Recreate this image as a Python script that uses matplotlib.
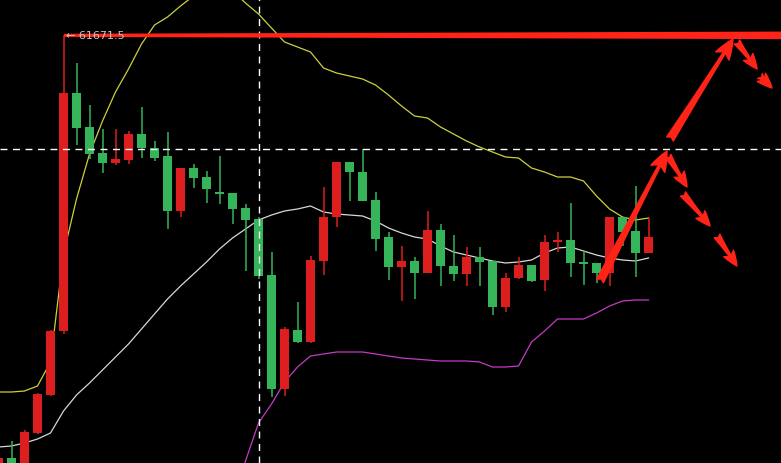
import matplotlib.pyplot as plt
import numpy as np

# candle data (bar index 0..50), red = up, green = down
opens = [57280, 57440, 57330, 57690, 58070, 58710, 61090, 60750, 60490, 60390,
         60420, 60680, 60540, 60460, 59910, 60340, 60250, 60100, 60090, 59940,
         59830, 59270, 58130, 58720, 58600, 59410, 59850, 60400, 60300, 60020,
         59650, 59350, 59410, 59290, 59720, 59360, 59280, 59450, 59410, 58950,
         59240, 59370, 59220, 59600, 59620, 59400, 59390, 59290, 59850, 59710,
         59490]
closes = [57440, 57360, 57700, 58080, 58710, 61090, 60740, 60480, 60390, 60430,
          60680, 60540, 60440, 59910, 60340, 60240, 60130, 60080, 59930, 59820,
          59260, 58130, 58730, 58600, 59420, 59850, 60400, 60300, 60010, 59630,
          59350, 59410, 59290, 59720, 59360, 59280, 59450, 59400, 58950, 59240,
          59370, 59210, 59600, 59620, 59390, 59380, 59290, 59850, 59700, 59490,
          59650]
highs = [57460, 57610, 57720, 58090, 58720, 61671.5, 61390, 60970, 60730, 60730,
         60710, 60950, 60610, 60700, 60340, 60380, 60310, 60460, 60090, 59980,
         59850, 59500, 58750, 59000, 59460, 60150, 60400, 60400, 60530, 60100,
         59700, 59560, 59450, 59910, 59780, 59670, 59550, 59550, 59410, 59290,
         59450, 59370, 59670, 59700, 59990, 59510, 59390, 59850, 59850, 60160,
         59840]
lows = [57250, 57330, 57310, 57680, 58060, 58680, 60570, 60430, 60290, 60370,
        60380, 60440, 60410, 59730, 59850, 60140, 59990, 59980, 59780, 59310,
        59230, 58050, 58060, 58590, 58590, 59270, 59750, 60010, 60010, 59510,
        59220, 59010, 59030, 59290, 59160, 59210, 59160, 59160, 58870, 58900,
        59230, 59200, 59110, 59500, 59250, 59170, 59190, 59160, 59560, 59250,
        59490]

# bollinger style bands
upper = [58100, 58100, 58110, 58160, 58400, 59480, 60030, 60480, 60810, 61100,
         61330, 61580, 61770, 61850, 61960, 62060, 62150, 62180, 62110, 61990,
         61880, 61740, 61600, 61550, 61500, 61340, 61290, 61260, 61230, 61170,
         61070, 60960, 60860, 60840, 60750, 60680, 60610, 60550, 60500, 60450,
         60440, 60340, 60300, 60250, 60250, 60210, 60060, 59930, 59850, 59820,
         59840]
middle = [57550, 57560, 57590, 57630, 57690, 57910, 58070, 58190, 58320, 58450,
          58580, 58730, 58880, 59030, 59160, 59280, 59400, 59530, 59640, 59730,
          59820, 59870, 59910, 59930, 59960, 59900, 59880, 59870, 59860, 59810,
          59740, 59690, 59650, 59630, 59560, 59500, 59470, 59440, 59410, 59390,
          59400, 59420, 59490, 59540, 59550, 59510, 59470, 59440, 59420, 59410,
          59440]
lower_start = 18
lower = [56980, 57410, 57790, 57980, 58200, 58350, 58460, 58480, 58500, 58500,
         58500, 58480, 58460, 58440, 58430, 58420, 58410, 58410, 58410, 58400,
         58350, 58350, 58360, 58600, 58710, 58830, 58830, 58830, 58890, 58960,
         59010, 59020, 59020]

peak_idx = 5
peak_price = 61671.5
cursor_idx = 20
cursor_price = 60530

# hand drawn arrows: (x0, p0, x1, p1)
big_arrows = [(46.27, 59210, 51.42, 60510), (51.65, 60630, 56.5, 61630)]
small_arrows = [(56.8, 61600, 58.35, 61330), (58.58, 61260, 59.5, 61140),
                (59.73, 61090, 60.6, 60900),
                (51.5, 60460, 52.96, 60150), (52.65, 60080, 54.73, 59760),
                (55.27, 59660, 56.8, 59360)]

RED = '#dc1e1e'
GREEN = '#35b45a'
ARROW = '#ff2318'

fig = plt.figure(figsize=(7.81, 4.64), dpi=100, facecolor='black')
ax = fig.add_axes([0, 0, 1, 1])
ax.set_facecolor('black')

x = np.arange(len(opens))
o = np.array(opens)
c = np.array(closes)
cols = [RED if cc >= oo else GREEN for oo, cc in zip(o, c)]
bottoms = np.minimum(o, c)
heights = np.maximum(np.abs(c - o), 20)

ax.vlines(x, lows, highs, colors=cols, linewidth=1.1, zorder=3)
ax.bar(x, heights, bottom=bottoms, width=0.7, color=cols, zorder=4)

ax.plot(x, upper, color='#cfcf3c', lw=0.9, zorder=2)
ax.plot(x, middle, color='#d8d8d8', lw=0.9, zorder=2)
ax.plot(np.arange(lower_start, lower_start + len(lower)), lower,
        color='#c43cc4', lw=0.9, zorder=2)

# crosshair
ax.axvline(cursor_idx, color='white', lw=1, ls=(0, (5, 4)), zorder=5)
ax.axhline(cursor_price, color='white', lw=1, ls=(0, (5, 4)), zorder=5)

# tapered high line
xr = 60.5
xs = np.linspace(peak_idx, xr, 50)
half = np.linspace(16, 38, 50)
ax.fill_between(xs, peak_price - half, peak_price + half, color=ARROW,
                lw=0, zorder=6)
ax.text(peak_idx + 0.2, peak_price, '← 61671.5', color='#c8c8c8', fontsize=8,
        va='center', ha='left', zorder=7)

for x0, p0, x1, p1 in big_arrows:
    ax.annotate('', xy=(x1, p1), xytext=(x0, p0), zorder=8,
                arrowprops=dict(arrowstyle='fancy,head_length=0.9,head_width=0.7,tail_width=0.35',
                                color=ARROW, mutation_scale=16, shrinkA=0, shrinkB=0))
for x0, p0, x1, p1 in small_arrows:
    ax.annotate('', xy=(x1, p1), xytext=(x0, p0), zorder=8,
                arrowprops=dict(arrowstyle='fancy,head_length=0.9,head_width=0.7,tail_width=0.4',
                                color=ARROW, mutation_scale=12, shrinkA=0, shrinkB=0))

ax.set_xlim(0.115, 60.19)
ax.set_ylim(57390, 62030)
ax.axis('off')

fig.savefig('out.png', dpi=100, facecolor='black')
